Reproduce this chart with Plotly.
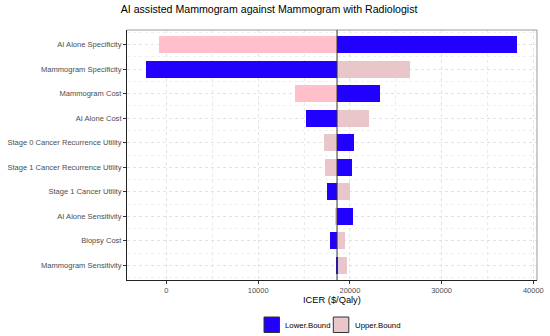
import plotly.graph_objects as go

# ---- data ----
parameters = [
    "AI Alone Specificity",
    "Mammogram Specificity",
    "Mammogram Cost",
    "AI Alone Cost",
    "Stage 0 Cancer Recurrence Utility",
    "Stage 1 Cancer Recurrence Utility",
    "Stage 1 Cancer Utility",
    "AI Alone Sensitivity",
    "Biopsy Cost",
    "Mammogram Sensitivity",
]
lower_bound = [38250, -2200, 23300, 15250, 20450, 20230, 17530, 20300, 17830, 18450]
upper_bound = [-820, 26550, 14050, 22080, 17210, 17320, 20010, 18380, 19470, 19720]
base_icer = 18600
series_names = ["Lower.Bound", "Upper.Bound"]
x_tick_values = [0, 10000, 20000, 30000, 40000]
title_text = "AI assisted Mammogram against Mammogram with Radiologist"
x_title = "ICER ($/Qaly)"

# ---- style ----
W, H = 550, 336
ML, MR, MT, MB = 127, 13, 30, 56
PW, PH = W - ML - MR, H - MT - MB
FONT = "Liberation Sans, Arial, sans-serif"
BLUE = "#2200FF"
PINK_BRIGHT = "#FFC0CB"
PINK_MUTED = "#E9C6CA"
upper_colors = [PINK_BRIGHT, PINK_MUTED, PINK_BRIGHT, PINK_MUTED, PINK_MUTED,
                PINK_MUTED, PINK_MUTED, PINK_MUTED, PINK_MUTED, PINK_MUTED]

def px_x(px):
    return (px - ML) / PW

def px_y(py):
    return (H - MB - py) / PH

ypos = list(range(len(parameters)))

fig = go.Figure()
fig.add_trace(go.Bar(
    y=ypos, x=[v - base_icer for v in upper_bound], base=[base_icer] * len(ypos),
    orientation="h", width=0.7, name=series_names[1],
    marker=dict(color=upper_colors, line=dict(width=0)), showlegend=False,
))
fig.add_trace(go.Bar(
    y=ypos, x=[v - base_icer for v in lower_bound], base=[base_icer] * len(ypos),
    orientation="h", width=0.7, name=series_names[0],
    marker=dict(color=BLUE, line=dict(width=0)), showlegend=False,
))

grid = dict(showgrid=True, gridcolor="#E2E2E2", griddash="dot", gridwidth=1)

fig.update_layout(
    width=W, height=H,
    margin=dict(l=ML, r=MR, t=MT, b=MB, pad=0, autoexpand=False),
    paper_bgcolor="white", plot_bgcolor="white",
    barmode="overlay", bargap=0,
    font=dict(family=FONT, color="#4D4D4D"),
    title=dict(text=title_text, font=dict(size=10.6, color="black", family=FONT),
               xref="container", x=120.7 / W, xanchor="left",
               yref="container", y=1 - 9.5 / H, yanchor="middle"),
    xaxis=dict(range=[-4300, 40400], tickvals=x_tick_values,
               ticktext=[str(v) for v in x_tick_values],
               automargin=False,
               ticks="outside", ticklen=3, tickcolor="#333333", tickwidth=1,
               tickfont=dict(size=7.5, color="#4D4D4D", family=FONT),
               showline=True, linecolor="#222222", linewidth=1,
               zeroline=False,
               minor=dict(dtick=5000, tick0=0, showgrid=True, gridcolor="#EBEBEB",
                          griddash="dot", ticks=""),
               **grid),
    yaxis=dict(range=[9.6, -0.6], tickvals=ypos, ticktext=parameters,
               automargin=False,
               ticks="outside", ticklen=3, tickcolor="#333333", tickwidth=1,
               tickfont=dict(size=7.55, color="#4D4D4D", family=FONT),
               showline=True, linecolor="#222222", linewidth=1,
               zeroline=False,
               minor=dict(dtick=1, tick0=0.5, showgrid=True, gridcolor="#F0F0F0",
                          griddash="dot", ticks=""),
               **grid),
    showlegend=False,
)

shapes = [
    dict(type="line", xref="paper", yref="paper", x0=0, x1=1, y0=1, y1=1,
         line=dict(color="#9A9A9A", width=1)),
    dict(type="line", xref="paper", yref="paper", x0=1, x1=1, y0=0, y1=1,
         line=dict(color="#9A9A9A", width=1)),
    dict(type="line", xref="x", yref="paper", x0=base_icer, x1=base_icer, y0=0, y1=1,
         line=dict(color="#333333", width=1), layer="above"),
    dict(type="rect", xref="paper", yref="paper",
         x0=px_x(264), x1=px_x(279.5), y0=px_y(332.5), y1=px_y(317),
         fillcolor=BLUE, line=dict(color="#333333", width=1)),
    dict(type="rect", xref="paper", yref="paper",
         x0=px_x(333.3), x1=px_x(348.8), y0=px_y(332.5), y1=px_y(317),
         fillcolor=PINK_MUTED, line=dict(color="#333333", width=1)),
]
annotations = [
    dict(text=x_title, xref="paper", yref="paper", x=px_x(331.5), y=px_y(299.5),
         xanchor="center", yanchor="middle", showarrow=False,
         font=dict(size=9.3, color="black", family=FONT)),
    dict(text=series_names[0], xref="paper", yref="paper", x=px_x(282.5), y=px_y(325),
         xanchor="left", yanchor="middle", showarrow=False,
         font=dict(size=7.8, color="black", family=FONT)),
    dict(text=series_names[1], xref="paper", yref="paper", x=px_x(352.5), y=px_y(325),
         xanchor="left", yanchor="middle", showarrow=False,
         font=dict(size=7.8, color="black", family=FONT)),
]
fig.update_layout(shapes=shapes, annotations=annotations)

fig.write_html("out.html", config={"displayModeBar": False})

# remove the default page margin so the figure sits at the window's top-left corner
with open("out.html", "r", encoding="utf-8") as f:
    html = f.read()
html = html.replace("<head>", "<head><style>html,body{margin:0;padding:0;overflow:hidden;}</style>", 1)
with open("out.html", "w", encoding="utf-8") as f:
    f.write(html)
